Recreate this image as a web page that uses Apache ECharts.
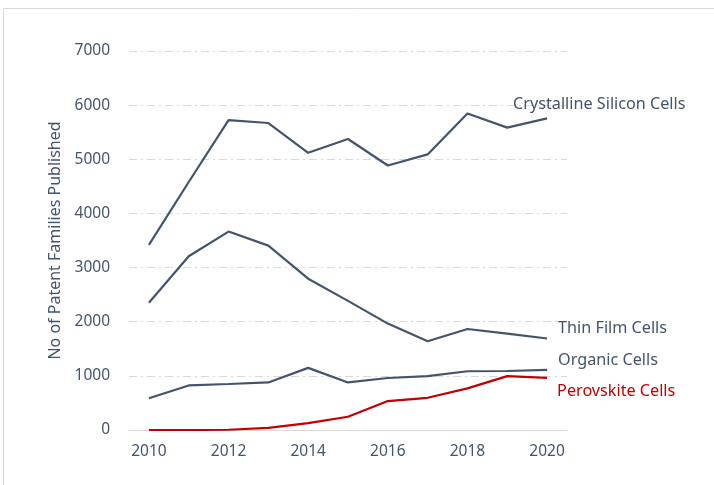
<!DOCTYPE html>
<html>
<head>
<meta charset="utf-8">
<script src="https://cdn.jsdelivr.net/npm/echarts@6/dist/echarts.min.js"></script>
<style>html,body{margin:0;padding:0;background:#fff;}#chart{width:714px;height:485px;}</style>
</head>
<body>
<div id="chart"></div>
<script>
var years = ['2010','2011','2012','2013','2014','2015','2016','2017','2018','2019','2020'];
var crystalline = [3420, 4580, 5725, 5670, 5120, 5375, 4885, 5090, 5845, 5585, 5755];
var thinFilm = [2350, 3210, 3665, 3405, 2795, 2385, 1965, 1640, 1865, 1780, 1690];
var organic = [585, 823, 850, 879, 1148, 879, 960, 995, 1085, 1090, 1110];
var perovskite = [0, 0, 5, 40, 128, 245, 534, 595, 768, 995, 964];
var yTicks = [0, 1000, 2000, 3000, 4000, 5000, 6000, 7000];

var FONT = 'Noto Sans';
var BLUE = '#44546A';
var RED = '#C00000';

function mk(name, data, color, offset) {
  return {
    name: name, type: 'line', data: data, symbol: 'none',
    lineStyle: {color: color, width: 2.2},
    itemStyle: {color: color},
    endLabel: {show: true, formatter: name, color: color, fontFamily: FONT, fontSize: 16.2, distance: 0, offset: offset},
    emphasis: {disabled: true}
  };
}

var chart = echarts.init(document.getElementById('chart'), null, {renderer: 'canvas'});
chart.setOption({
  animation: false,
  backgroundColor: '#fff',
  grid: {left: 129, right: 147, top: 51, bottom: 55},
  graphic: [{type: 'rect', shape: {x: 3.5, y: 8.5, width: 900, height: 900}, style: {fill: 'none', stroke: '#D9D9D9', lineWidth: 1}}],
  xAxis: {
    type: 'category', data: years, boundaryGap: true,
    axisLine: {lineStyle: {color: '#D9D9D9', width: 1}},
    axisTick: {show: false},
    axisLabel: {interval: 1, color: BLUE, fontFamily: FONT, fontSize: 15.5, margin: 14}
  },
  yAxis: {
    type: 'value', min: yTicks[0], max: yTicks[yTicks.length - 1], interval: 1000,
    name: 'No of Patent Families Published', nameLocation: 'middle', nameGap: 57,
    nameTextStyle: {color: BLUE, fontFamily: FONT, fontSize: 16},
    axisLine: {show: false}, axisTick: {show: false},
    axisLabel: {color: BLUE, fontFamily: FONT, fontSize: 15.5, margin: 19, formatter: function (v) { return String(v); }},
    splitLine: {lineStyle: {color: '#D9D9D9', width: 1, type: [8, 4, 2, 4]}}
  },
  series: [
    mk('Crystalline Silicon Cells', crystalline, BLUE, [-34, -14]),
    mk('Thin Film Cells', thinFilm, BLUE, [11, -10]),
    mk('Organic Cells', organic, BLUE, [11, -10]),
    mk('Perovskite Cells', perovskite, RED, [10, 14])
  ]
});
</script>
</body>
</html>
